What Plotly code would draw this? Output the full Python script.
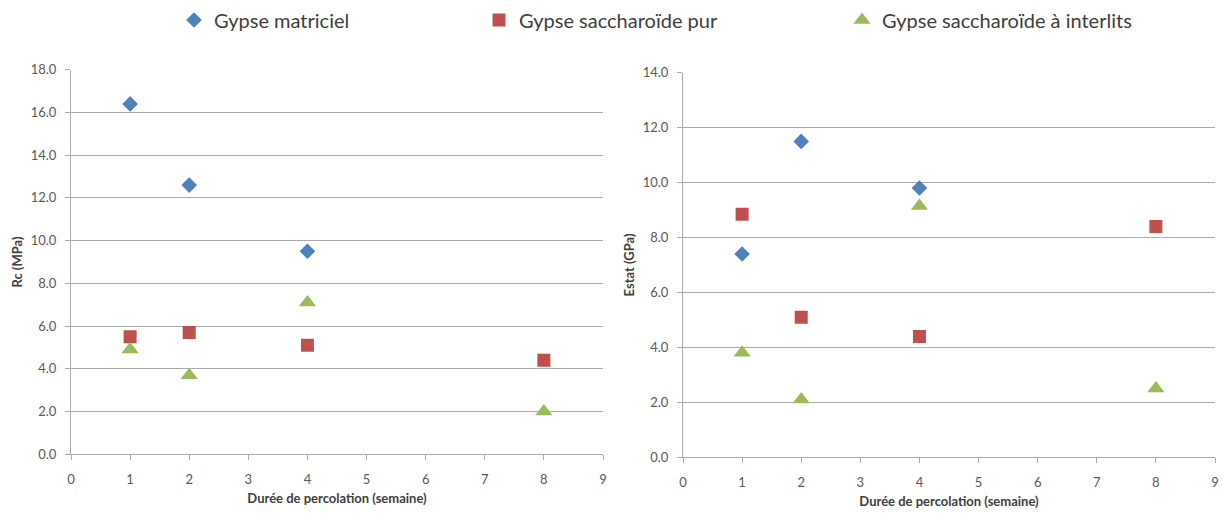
import plotly.graph_objects as go

weeks = [1, 2, 4, 8]
series_names = ["Gypse matriciel", "Gypse saccharoïde pur", "Gypse saccharoïde à interlits"]
rc_matriciel = [16.4, 12.6, 9.5]
rc_pur = [5.5, 5.7, 5.1, 4.4]
rc_interlits = [4.9, 3.7, 7.1, 2.0]
estat_matriciel = [7.4, 11.5, 9.8]
estat_pur = [8.85, 5.1, 4.4, 8.4]
estat_interlits = [3.8, 2.1, 9.15, 2.5]

colors = ["#4F81BD", "#C0504D", "#9BBB59"]
symbols = ["diamond", "square", "triangle-up"]
sizes = [12, 13, 15]
legends = ["legend", "legend2", "legend3"]

fig = go.Figure()
left = [rc_matriciel, rc_pur, rc_interlits]
right = [estat_matriciel, estat_pur, estat_interlits]
for i in range(3):
    fig.add_trace(go.Scatter(x=weeks[:len(left[i])], y=left[i], mode="markers", name=series_names[i],
                             marker=dict(color=colors[i], symbol=symbols[i], size=sizes[i]),
                             xaxis="x", yaxis="y", legend=legends[i]))
    fig.add_trace(go.Scatter(x=weeks[:len(right[i])], y=right[i], mode="markers", name=series_names[i],
                             marker=dict(color=colors[i], symbol=symbols[i], size=sizes[i]),
                             xaxis="x2", yaxis="y2", legend=legends[i], showlegend=False))

W, H = 1222, 514


def fx(px):
    return px / W


def fy(py):
    return 1 - py / H


font_fam = "Lato, 'Open Sans', sans-serif"
tick_font = dict(family=font_fam, size=13, color="#595959")
title_font = dict(family=font_fam, size=13, color="#404040")
grid = "#ABABAB"

xcommon = dict(range=[0, 9], dtick=1, tick0=0, showgrid=False, showline=True, linecolor=grid, linewidth=1,
               ticks="outside", ticklen=5, tickcolor=grid, tickfont=tick_font, zeroline=False, automargin=False,
               ticklabelstandoff=8,
               title=dict(text="<b>Durée de percolation (semaine)</b>", font=title_font, standoff=8))
ycommon = dict(showgrid=True, gridcolor=grid, gridwidth=1, showline=True, linecolor=grid, linewidth=1,
               ticks="outside", ticklen=5, tickcolor=grid, tickfont=tick_font, tickformat=".1f", zeroline=False,
               automargin=False, ticklabelstandoff=6)

leg_common = dict(orientation="h", bgcolor="rgba(0,0,0,0)", font=dict(family=font_fam, size=20, color="#404040"),
                  xanchor="left", yanchor="middle", y=fy(18), yref="paper", itemwidth=30)

fig.update_layout(
    width=W, height=H, margin=dict(l=0, r=0, t=0, b=0),
    paper_bgcolor="white", plot_bgcolor="white",
    xaxis=dict(domain=[fx(71), fx(603)], anchor="y", **xcommon),
    yaxis=dict(domain=[fy(454), fy(68)], anchor="x", range=[0, 18], dtick=2,
               title=dict(text="<b>Rc (MPa)</b>", font=title_font, standoff=5), **ycommon),
    xaxis2=dict(domain=[fx(683), fx(1215)], anchor="y2", **xcommon),
    yaxis2=dict(domain=[fy(457), fy(71)], anchor="x2", range=[0, 14], dtick=2,
                title=dict(text="<b>Estat (GPa)</b>", font=title_font, standoff=5), **ycommon),
    legend=dict(x=fx(215 - 41), **leg_common),
    legend2=dict(x=fx(520 - 41), **leg_common),
    legend3=dict(x=fx(883 - 41), **leg_common),
)

fig.write_html("out.html", config={"displayModeBar": False},
               post_script="document.body.style.margin='0';document.body.style.overflow='hidden';")
